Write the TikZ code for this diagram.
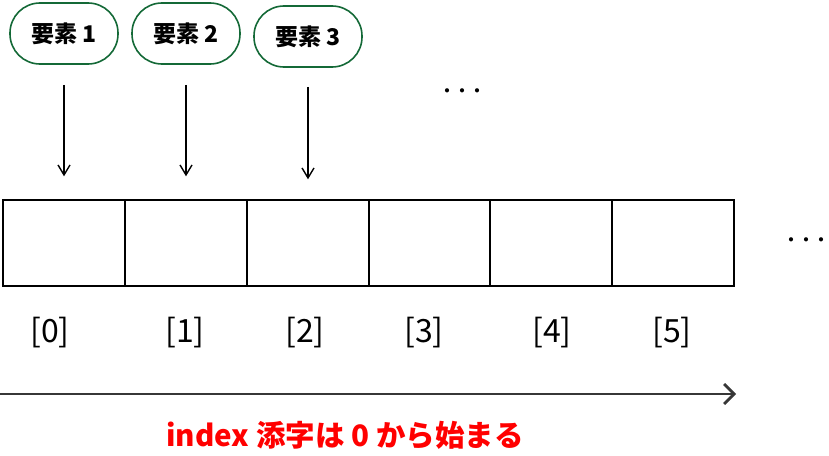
\documentclass[tikz,border=0pt]{standalone}
\usepackage{fontspec}
\setmainfont{Noto Sans CJK JP}
\usetikzlibrary{arrows.meta}
\definecolor{pillgreen}{RGB}{20,105,55}
\definecolor{axisgray}{RGB}{55,55,55}
\tikzset{
  elem/.style={draw=pillgreen, line width=1.6pt, rounded corners=30pt,
    minimum width=108pt, minimum height=61pt, font=\fontsize{23}{27}\selectfont\bfseries},
  cell/.style={draw, line width=1.4pt, minimum width=122pt, minimum height=86pt, inner sep=0pt},
  idx/.style={font=\fontsize{32}{36}\selectfont},
  dots/.style={font=\fontsize{15}{18}\selectfont\bfseries},
}
\begin{document}
\begin{tikzpicture}[x=1pt, y=-1pt]
      \useasboundingbox (0,0) rectangle (829,455);
      \draw
        (64,243) node[cell] (c0){}
        (186,243) node[cell] (c1){}
        (308,243) node[cell] (c2){}
        (429.5,243) node[cell] (c3){}
        (551,243) node[cell] (c4){}
        (673,243) node[cell] (c5){};
      \draw
        (64,33.5) node[elem] (e1){要素 1}
        (186,33.5) node[elem] (e2){要素 2}
        (308,36.5) node[elem] (e3){要素 3};
      \draw
        (462,93) node[dots] (d1){・・・}
        (806,242) node[dots] (d2){・・・};
      \draw
        (50,333) node[idx] (l0){[0]}
        (185,333) node[idx] (l1){[1]}
        (305,333) node[idx] (l2){[2]}
        (424,333) node[idx] (l3){[3]}
        (552,333) node[idx] (l4){[4]}
        (672,333) node[idx] (l5){[5]};
      \coordinate (a0) at (0,394);
      \coordinate (a1) at (736,394);
      \node[text=red, font=\fontsize{29.5}{34}\selectfont\bfseries] (note) at (345,435) {index 添字は 0 から始まる};
      \begin{scope}[-{Straight Barb[length=10pt,width=12pt]}, line width=1.4pt]
        \draw ([yshift=-20pt]e1.south) to ([yshift=23pt]c0.north);
        \draw ([yshift=-20pt]e2.south) to ([yshift=23pt]c1.north);
        \draw ([yshift=-19pt]e3.south) to ([yshift=20pt]c2.north);
      \end{scope}
      \draw[axisgray, line width=2.8pt, -{Straight Barb[length=10pt,width=20pt]}] (a0) to (a1);
    \end{tikzpicture}
\end{document}
